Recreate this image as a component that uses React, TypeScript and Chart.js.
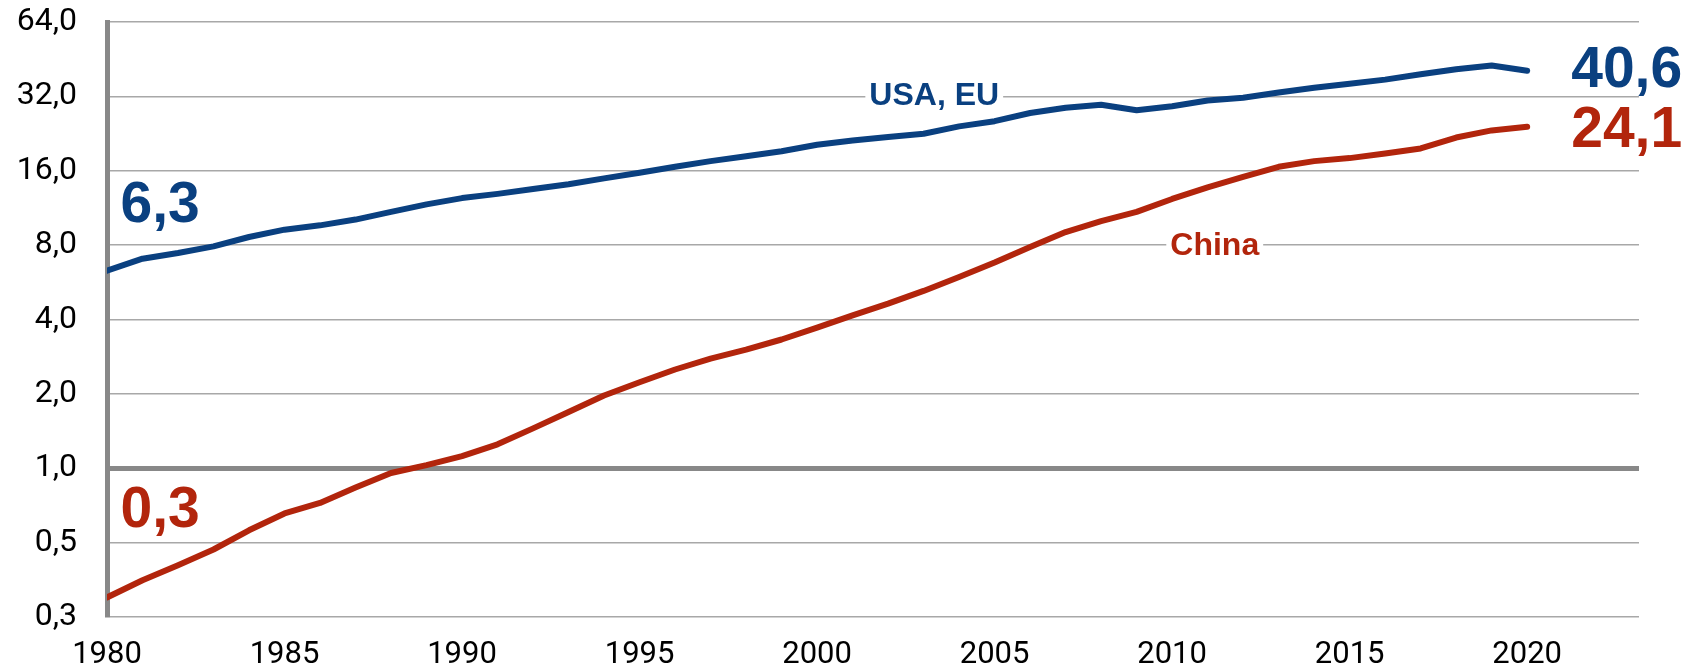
import React, { useEffect, useRef } from 'react';
import { Chart, registerables } from 'chart.js';

Chart.register(...registerables);

// ---------- data ----------
const years = [
  1980, 1981, 1982, 1983, 1984, 1985, 1986, 1987, 1988, 1989,
  1990, 1991, 1992, 1993, 1994, 1995, 1996, 1997, 1998, 1999,
  2000, 2001, 2002, 2003, 2004, 2005, 2006, 2007, 2008, 2009,
  2010, 2011, 2012, 2013, 2014, 2015, 2016, 2017, 2018, 2019, 2020,
];
const usaEu = [
  6.3, 7.05, 7.43, 7.91, 8.63, 9.24, 9.62, 10.15, 10.9, 11.7,
  12.4, 12.9, 13.5, 14.1, 14.9, 15.7, 16.6, 17.5, 18.3, 19.2,
  20.4, 21.2, 21.9, 22.6, 24.2, 25.4, 27.4, 28.8, 29.6, 28.1,
  29.2, 30.8, 31.6, 33.2, 34.7, 36.0, 37.4, 39.3, 41.2, 42.7, 40.6,
];
const china = [
  0.3, 0.352, 0.405, 0.469, 0.561, 0.656, 0.724, 0.835, 0.957, 1.03,
  1.12, 1.25, 1.45, 1.69, 1.97, 2.23, 2.51, 2.78, 3.02, 3.32,
  3.71, 4.16, 4.64, 5.22, 5.94, 6.8, 7.86, 9.04, 10.0, 10.9,
  12.3, 13.7, 15.1, 16.6, 17.5, 18.0, 18.8, 19.7, 21.8, 23.3, 24.1,
];
const seriesNames = ['USA, EU', 'China'];
const xTickYears = [1980, 1985, 1990, 1995, 2000, 2005, 2010, 2015, 2020];
const yTickValues = [0.25, 0.5, 1, 2, 4, 8, 16, 32, 64];

// ---------- styles ----------
const BLUE = '#0a4080';
const RED = '#b2250c';
const FONT = 'Roboto';
const LABEL_FONT = '"Liberation Sans", Arial, sans-serif';

const fmt = (v: number) => Number(v).toFixed(1).replace('.', ',');

// annotation placements (data space)
const annotations = [
  { text: fmt(usaEu[0]), x: 1980.38, y: 9.9, align: 'left', color: BLUE, size: 57, bg: false },
  { text: fmt(china[0]), x: 1980.38, y: 0.577, align: 'left', color: RED, size: 57, bg: false },
  { text: fmt(usaEu[usaEu.length - 1]), x: 2021.24, y: 34.8, align: 'left', color: BLUE, size: 57, bg: false },
  { text: fmt(china[china.length - 1]), x: 2021.24, y: 19.9, align: 'left', color: RED, size: 57, bg: false },
  { text: seriesNames[0], x: 2003.3, y: 29.4, align: 'center', color: BLUE, size: 32, bg: true },
  { text: seriesNames[1], x: 2011.2, y: 7.27, align: 'center', color: RED, size: 32, bg: true },
];

const labelPlugin = {
  id: 'labelPlugin',
  afterDatasetsDraw(chart: any) {
    const { ctx, scales } = chart;
    const xs = scales.x;
    const ys = scales.y;
    ctx.save();
    for (const a of annotations) {
      ctx.font = `bold ${a.size}px ${LABEL_FONT}`;
      ctx.textBaseline = 'alphabetic';
      ctx.textAlign = a.align as CanvasTextAlign;
      const px = xs.getPixelForValue(a.x);
      const py = ys.getPixelForValue(a.y);
      const w = ctx.measureText(a.text).width;
      if (a.bg) {
        const left = a.align === 'center' ? px - w / 2 : px;
        ctx.fillStyle = '#ffffff';
        ctx.fillRect(left - 4, py - a.size * 0.8, w + 8, a.size * 0.9);
      }
      ctx.fillStyle = a.color;
      ctx.fillText(a.text, px, py);
    }
    ctx.restore();
  },
};

export default function App() {
  const canvasRef = useRef<HTMLCanvasElement | null>(null);

  useEffect(() => {
    if (!canvasRef.current) return;
    Chart.defaults.font.family = FONT;
    const chart = new Chart(canvasRef.current, {
      type: 'line',
      data: {
        datasets: [
          {
            label: seriesNames[0],
            data: years.map((yr, i) => ({ x: yr, y: usaEu[i] })),
            borderColor: BLUE,
            borderWidth: 6,
            pointRadius: 0,
            tension: 0,
            borderCapStyle: 'round',
            borderJoinStyle: 'round',
            fill: false,
          },
          {
            label: seriesNames[1],
            data: years.map((yr, i) => ({ x: yr, y: china[i] })),
            borderColor: RED,
            borderWidth: 6,
            pointRadius: 0,
            tension: 0,
            borderCapStyle: 'round',
            borderJoinStyle: 'round',
            fill: false,
          },
        ],
      },
      options: {
        responsive: false,
        animation: false,
        layout: { padding: { top: 22, right: 52, left: 0, bottom: 0 } },
        plugins: {
          legend: { display: false },
          tooltip: { enabled: false },
        },
        scales: {
          x: {
            type: 'linear',
            min: 1980,
            max: 2023.15,
            afterBuildTicks: (scale: any) => {
              scale.ticks = xTickYears.map((v) => ({ value: v }));
            },
            afterFit: (scale: any) => {
              scale.height = 53;
              scale.paddingLeft = 0;
              scale.paddingRight = 0;
            },
            grid: { display: false, drawTicks: false },
            border: { display: false },
            ticks: {
              autoSkip: false,
              maxRotation: 0,
              padding: 20,
              color: '#000',
              font: { size: 31, family: FONT },
              callback: (v: any) => String(v),
            },
          },
          y: {
            type: 'logarithmic',
            min: 0.25,
            max: 64,
            afterBuildTicks: (scale: any) => {
              scale.ticks = yTickValues.map((v) => ({ value: v }));
            },
            afterFit: (scale: any) => {
              scale.width = 107;
              scale.paddingTop = 0;
              scale.paddingBottom = 0;
            },
            grid: {
              drawTicks: false,
              color: (c: any) => (c.tick && c.tick.value === 1 ? '#888888' : '#a8a8a8'),
              lineWidth: (c: any) => (c.tick && c.tick.value === 1 ? 5 : 1.5),
            },
            border: { display: true, color: '#888888', width: 5 },
            ticks: {
              autoSkip: false,
              padding: 30,
              color: '#000',
              font: { size: 32, family: FONT },
              callback: (v: any) => fmt(Number(v)),
            },
          },
        },
      },
      plugins: [labelPlugin],
    } as any);
    return () => chart.destroy();
  }, []);

  return (
    <div style={{ position: 'fixed', left: 0, top: 0, width: 1691, height: 670, background: '#fff' }}>
      <canvas ref={canvasRef} width={1691} height={670} style={{ width: 1691, height: 670, display: 'block' }} />
    </div>
  );
}
